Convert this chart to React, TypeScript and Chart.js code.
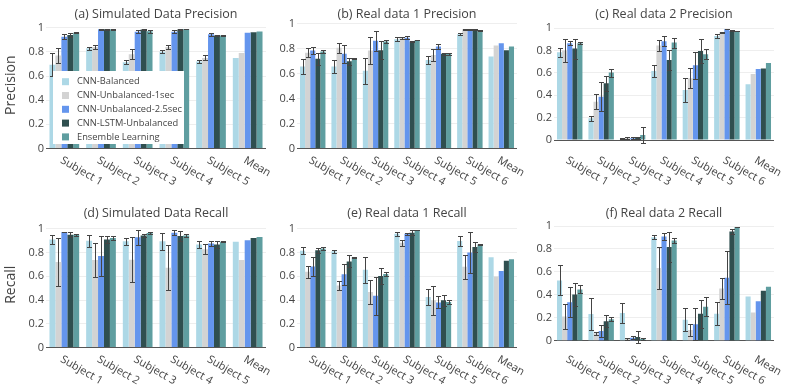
import React, { useEffect, useRef } from "react";
import { Chart, registerables } from "chart.js";

Chart.register(...registerables);

const SERIES_NAMES = [
  "CNN-Balanced",
  "CNN-Unbalanced-1sec",
  "CNN-Unbalanced-2.5sec",
  "CNN-LSTM-Unbalanced",
  "Ensemble Learning",
];
const SERIES_COLORS = ["#ADD8E6", "#D3D3D3", "#6495ED", "#2F4F4F", "#5F9EA0"];

const SIM_CATEGORIES = ["Subject 1", "Subject 2", "Subject 3", "Subject 4", "Subject 5", "Mean"];
const REAL_CATEGORIES = ["Subject 1", "Subject 2", "Subject 3", "Subject 4", "Subject 5", "Subject 6", "Mean"];

// (a) Simulated Data Precision — one row per series
const simPrecisionValues = [
  [0.694, 0.83, 0.714, 0.8, 0.72, 0.75],
  [0.77, 0.84, 0.78, 0.84, 0.75, 0.79],
  [0.925, 0.986, 0.967, 0.967, 0.945, 0.958],
  [0.94, 0.986, 0.985, 0.985, 0.935, 0.963],
  [0.958, 0.986, 0.97, 0.99, 0.935, 0.968],
];
const simPrecisionErrors = [
  [0.095, 0.012, 0.015, 0.012, 0.01, 0],
  [0.063, 0.015, 0.04, 0.015, 0.02, 0],
  [0.02, 0.003, 0.01, 0.01, 0.01, 0],
  [0.02, 0.003, 0.005, 0.003, 0.005, 0],
  [0.005, 0.003, 0.01, 0.003, 0.003, 0],
];

// (b) Real data 1 Precision
const real1PrecisionValues = [
  [0.658, 0.658, 0.625, 0.878, 0.71, 0.918, 0.738],
  [0.77, 0.81, 0.787, 0.886, 0.75, 0.958, 0.827],
  [0.787, 0.76, 0.865, 0.89, 0.82, 0.958, 0.845],
  [0.72, 0.7, 0.79, 0.86, 0.76, 0.953, 0.79],
  [0.78, 0.725, 0.86, 0.872, 0.76, 0.948, 0.82],
];
const real1PrecisionErrors = [
  [0.06, 0.05, 0.105, 0.015, 0.03, 0.01, 0],
  [0.035, 0.04, 0.11, 0.01, 0.05, 0.005, 0],
  [0.025, 0.07, 0.08, 0.01, 0.02, 0.005, 0],
  [0.05, 0.03, 0.07, 0.005, 0.01, 0.005, 0],
  [0.01, 0.005, 0.01, 0.003, 0.01, 0.003, 0],
];

// (c) Real data 2 Precision
const real2PrecisionValues = [
  [0.785, 0.194, 0.012, 0.618, 0.448, 0.93, 0.5],
  [0.8, 0.343, 0.018, 0.845, 0.552, 0.964, 0.59],
  [0.866, 0.388, 0.015, 0.884, 0.67, 0.994, 0.636],
  [0.818, 0.507, 0.018, 0.716, 0.797, 0.976, 0.64],
  [0.866, 0.603, 0.045, 0.872, 0.767, 0.976, 0.69],
];
const real2PrecisionErrors = [
  [0.04, 0.02, 0.003, 0.05, 0.11, 0.02, 0],
  [0.1, 0.07, 0.01, 0.05, 0.09, 0.005, 0],
  [0.02, 0.13, 0.01, 0.045, 0.12, 0.003, 0],
  [0.09, 0.07, 0.01, 0.09, 0.11, 0.005, 0],
  [0.01, 0.035, 0.07, 0.045, 0.045, 0.003, 0],
];

// (d) Simulated Data Recall
const simRecallValues = [
  [0.91, 0.9, 0.895, 0.895, 0.867, 0.89],
  [0.72, 0.736, 0.74, 0.672, 0.828, 0.736],
  [0.972, 0.77, 0.928, 0.967, 0.875, 0.903],
  [0.95, 0.91, 0.944, 0.94, 0.867, 0.922],
  [0.95, 0.922, 0.964, 0.944, 0.89, 0.93],
];
const simRecallErrors = [
  [0.04, 0.05, 0.03, 0.07, 0.03, 0],
  [0.2, 0.14, 0.19, 0.19, 0.04, 0],
  [0.003, 0.17, 0.065, 0.02, 0.02, 0],
  [0.02, 0.03, 0.01, 0.04, 0.03, 0],
  [0.01, 0.02, 0.007, 0.015, 0.005, 0],
];

// (e) Real data 1 Recall
const real1RecallValues = [
  [0.814, 0.81, 0.655, 0.958, 0.425, 0.897, 0.761],
  [0.639, 0.522, 0.467, 0.883, 0.397, 0.68, 0.597],
  [0.683, 0.617, 0.436, 0.958, 0.38, 0.8, 0.644],
  [0.82, 0.725, 0.603, 0.967, 0.397, 0.847, 0.73],
  [0.833, 0.76, 0.62, 0.99, 0.383, 0.867, 0.744],
];
const real1RecallErrors = [
  [0.03, 0.015, 0.11, 0.015, 0.07, 0.04, 0],
  [0.05, 0.04, 0.1, 0.025, 0.12, 0.1, 0],
  [0.08, 0.09, 0.16, 0.01, 0.05, 0.17, 0],
  [0.02, 0.05, 0.07, 0.02, 0.045, 0.04, 0],
  [0.01, 0.005, 0.02, 0.003, 0.015, 0.005, 0],
];

// (f) Real data 2 Recall
const real2RecallValues = [
  [0.526, 0.232, 0.241, 0.903, 0.182, 0.235, 0.385],
  [0.212, 0.065, 0.015, 0.635, 0.094, 0.456, 0.247],
  [0.335, 0.085, 0.026, 0.909, 0.144, 0.55, 0.344],
  [0.403, 0.17, 0.032, 0.818, 0.235, 0.953, 0.435],
  [0.447, 0.188, 0.015, 0.874, 0.297, 0.991, 0.47],
];
const real2RecallErrors = [
  [0.13, 0.14, 0.085, 0.02, 0.1, 0.1, 0],
  [0.11, 0.015, 0.01, 0.18, 0.05, 0.09, 0],
  [0.13, 0.05, 0.015, 0.03, 0.14, 0.23, 0],
  [0.1, 0.05, 0.05, 0.13, 0.12, 0.02, 0],
  [0.035, 0.02, 0.01, 0.02, 0.08, 0.003, 0],
];

const W = 789;
const H = 390;
const TEXT = "#444";
const FONT = '"Open Sans", "DejaVu Sans", sans-serif';

type Panel = {
  title: string;
  categories: string[];
  values: number[][];
  errors: number[][];
  left: number;
  right: number;
  top: number;
  bottom: number;
  yMin: number;
  yMax: number;
  yTitle?: string;
  legend?: boolean;
};

const COLS = [
  { left: 46, right: 266 },
  { left: 297, right: 517 },
  { left: 554, right: 774 },
];
const ROWS = [
  { top: 22, bottom: 148.5, titleY: 14 },
  { top: 222, bottom: 347.5, titleY: 213 },
];

const PANELS: Panel[] = [
  { title: "(a) Simulated Data Precision", categories: SIM_CATEGORIES, values: simPrecisionValues, errors: simPrecisionErrors, ...COLS[0], top: ROWS[0].top, bottom: ROWS[0].bottom, yMin: 0, yMax: 1.047, yTitle: "Precision", legend: true },
  { title: "(b) Real data 1 Precision", categories: REAL_CATEGORIES, values: real1PrecisionValues, errors: real1PrecisionErrors, ...COLS[1], top: ROWS[0].top, bottom: ROWS[0].bottom, yMin: 0, yMax: 1.016 },
  { title: "(c) Real data 2 Precision", categories: REAL_CATEGORIES, values: real2PrecisionValues, errors: real2PrecisionErrors, ...COLS[2], top: ROWS[0].top, bottom: ROWS[0].bottom, yMin: -0.076, yMax: 1.056 },
  { title: "(d) Simulated Data Recall", categories: SIM_CATEGORIES, values: simRecallValues, errors: simRecallErrors, ...COLS[0], top: ROWS[1].top, bottom: ROWS[1].bottom, yMin: 0, yMax: 1.057, yTitle: "Recall" },
  { title: "(e) Real data 1 Recall", categories: REAL_CATEGORIES, values: real1RecallValues, errors: real1RecallErrors, ...COLS[1], top: ROWS[1].top, bottom: ROWS[1].bottom, yMin: 0, yMax: 1.057 },
  { title: "(f) Real data 2 Recall", categories: REAL_CATEGORIES, values: real2RecallValues, errors: real2RecallErrors, ...COLS[2], top: ROWS[1].top, bottom: ROWS[1].bottom, yMin: -0.059, yMax: 1.035 },
];

const Y_AXIS_WIDTH = 40;

function decorPlugin(p: Panel, titleY: number) {
  return {
    id: "decor",
    afterDatasetsDraw(chart: any) {
      const ctx = chart.ctx;
      const y = chart.scales.y;
      ctx.save();
      ctx.strokeStyle = "#444";
      ctx.lineWidth = 1;
      p.values.forEach((series, i) => {
        const meta = chart.getDatasetMeta(i);
        meta.data.forEach((el: any, j: number) => {
          const e = p.errors[i][j];
          if (!e) return;
          const v = series[j];
          const x = Math.round(el.x) + 0.5;
          const yT = Math.round(y.getPixelForValue(v + e)) + 0.5;
          const yB = Math.round(y.getPixelForValue(v - e)) + 0.5;
          ctx.beginPath();
          ctx.moveTo(x, yT);
          ctx.lineTo(x, yB);
          ctx.moveTo(x - 2.5, yT);
          ctx.lineTo(x + 2.5, yT);
          ctx.moveTo(x - 2.5, yB);
          ctx.lineTo(x + 2.5, yB);
          ctx.stroke();
        });
      });
      ctx.restore();
    },
    afterDraw(chart: any) {
      const ctx = chart.ctx;
      const area = chart.chartArea;
      const xs = chart.scales.x;
      ctx.save();
      ctx.fillStyle = TEXT;
      // title
      ctx.font = `12.5px ${FONT}`;
      ctx.textAlign = "center";
      ctx.textBaseline = "middle";
      ctx.fillText(p.title, (area.left + area.right) / 2, titleY);
      // x labels, rotated 30deg
      ctx.font = `11px ${FONT}`;
      ctx.textAlign = "left";
      p.categories.forEach((c, i) => {
        const x = xs.getPixelForValue(i);
        ctx.save();
        ctx.translate(x - 3, area.bottom + 11);
        ctx.rotate((30 * Math.PI) / 180);
        ctx.fillText(c, 0, 0);
        ctx.restore();
      });
      // y title
      if (p.yTitle) {
        ctx.save();
        ctx.font = `14px ${FONT}`;
        ctx.textAlign = "center";
        ctx.translate(11, (area.top + area.bottom) / 2);
        ctx.rotate(-Math.PI / 2);
        ctx.fillText(p.yTitle, 0, 0);
        ctx.restore();
      }
      // legend
      if (p.legend) {
        ctx.fillStyle = "#ffffff";
        ctx.fillRect(53, 71, 131, 73);
        ctx.font = `9.3px ${FONT}`;
        ctx.textAlign = "left";
        SERIES_NAMES.forEach((name, k) => {
          const cy = 81.7 + k * 13.8;
          ctx.fillStyle = SERIES_COLORS[k];
          ctx.fillRect(62, cy - 3.5, 7, 7);
          ctx.fillStyle = TEXT;
          ctx.fillText(name, 77, cy);
        });
      }
      ctx.restore();
    },
  };
}

function PanelChart({ panel, titleY }: { panel: Panel; titleY: number }) {
  const ref = useRef<HTMLCanvasElement | null>(null);
  useEffect(() => {
    if (!ref.current) return;
    const chart = new Chart(ref.current, {
      type: "bar",
      data: {
        labels: panel.categories,
        datasets: SERIES_NAMES.map((name, i) => ({
          label: name,
          data: panel.values[i],
          backgroundColor: SERIES_COLORS[i],
          borderWidth: 0,
          barPercentage: 1,
          categoryPercentage: 0.81,
        })),
      },
      options: {
        responsive: false,
        animation: false,
        devicePixelRatio: 1,
        layout: {
          padding: {
            left: panel.left - Y_AXIS_WIDTH,
            right: W - panel.right,
            top: panel.top,
            bottom: H - panel.bottom,
          },
        },
        plugins: {
          legend: { display: false },
          tooltip: { enabled: false },
          title: { display: false },
        },
        scales: {
          x: { display: false, offset: true },
          y: {
            min: panel.yMin,
            max: panel.yMax,
            afterFit: (s: any) => {
              s.width = Y_AXIS_WIDTH;
            },
            border: { display: false },
            grid: {
              drawTicks: false,
              lineWidth: 1,
              color: (c: any) => (c.tick && Math.abs(c.tick.value) < 1e-9 ? "#555" : "#eeeeee"),
            },
            ticks: {
              stepSize: 0.2,
              includeBounds: false,
              padding: 2,
              color: TEXT,
              font: { family: FONT, size: 11 },
              callback: (v: any) => String(Math.round(Number(v) * 10) / 10),
            },
          },
        },
      },
      plugins: [decorPlugin(panel, titleY)],
    } as any);
    return () => chart.destroy();
  }, [panel, titleY]);
  return (
    <canvas
      ref={ref}
      width={W}
      height={H}
      style={{ position: "absolute", left: 0, top: 0, width: W, height: H }}
    />
  );
}

export default function App() {
  return (
    <div style={{ position: "fixed", left: 0, top: 0, width: W, height: H, background: "#fff", overflow: "hidden" }}>
      {PANELS.map((p, i) => (
        <PanelChart key={i} panel={p} titleY={i < 3 ? ROWS[0].titleY : ROWS[1].titleY} />
      ))}
    </div>
  );
}
